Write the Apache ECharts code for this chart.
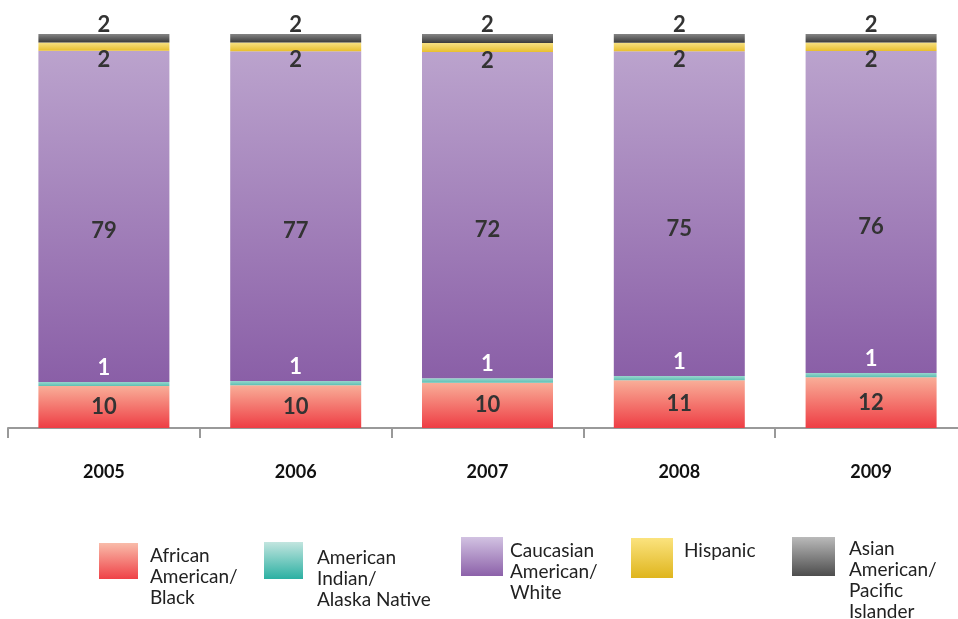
<!DOCTYPE html>
<html>
<head>
<meta charset="utf-8">
<script src="https://cdn.jsdelivr.net/npm/echarts@6/dist/echarts.min.js"></script>
<style>html,body{margin:0;padding:0;background:#fff;}#c{width:958px;height:619px;}</style>
</head>
<body>
<div id="c"></div>
<script>
const categories = ['2005', '2006', '2007', '2008', '2009'];
const african = [10, 10, 10, 11, 12];
const amIndian = [1, 1, 1, 1, 1];
const caucasian = [79, 77, 72, 75, 76];
const hispanic = [2, 2, 2, 2, 2];
const asian = [2, 2, 2, 2, 2];
const seriesNames = ['African American/Black', 'American Indian/Alaska Native', 'Caucasian American/White', 'Hispanic', 'Asian American/Pacific Islander'];
const legendLines = [
  ['African', 'American/', 'Black'],
  ['American', 'Indian/', 'Alaska Native'],
  ['Caucasian', 'American/', 'White'],
  ['Hispanic'],
  ['Asian', 'American/', 'Pacific', 'Islander']
];

const raw = [african, amIndian, caucasian, hispanic, asian];
const totals = categories.map((_, i) => raw.reduce((s, arr) => s + arr[i], 0));
const share = arr => arr.map((v, i) => v / totals[i] * 100);

const grad = (top, bottom) => new echarts.graphic.LinearGradient(0, 0, 0, 1, [
  { offset: 0, color: top }, { offset: 1, color: bottom }
]);

const barColors = [
  grad('#f9ae98', '#ee3d44'),
  grad('#9ad6cd', '#5cc0b4'),
  grad('#bba3cd', '#8a5fa7'),
  grad('#f7e184', '#e8bf2e'),
  grad('#858585', '#3b3b3b')
];
const legendColors = [
  grad('#f9bcaa', '#ef4147'),
  grad('#c2e5df', '#2bb0a2'),
  grad('#d2c2e2', '#8c61a9'),
  grad('#fbe37e', '#dfb51d'),
  grad('#bababa', '#4d4d4d')
];

const FONT = 'Lato';
const labelBase = { show: true, fontFamily: FONT, fontWeight: 'bold', fontSize: 22, color: '#333' };
const labels = [
  Object.assign({}, labelBase, { position: 'inside' }),
  Object.assign({}, labelBase, { position: 'top', distance: 3, color: '#fff' }),
  Object.assign({}, labelBase, { position: 'inside', offset: [0, 15] }),
  Object.assign({}, labelBase, { position: 'bottom', distance: 0, offset: [0, -2] }),
  Object.assign({}, labelBase, { position: 'top', distance: 0, offset: [0, 2] })
];

const series = raw.map((arr, k) => ({
  name: seriesNames[k],
  type: 'bar',
  stack: 'total',
  barWidth: 131,
  data: share(arr),
  itemStyle: { color: barColors[k] },
  label: Object.assign({}, labels[k], { formatter: p => String(arr[p.dataIndex]) }),
  emphasis: { disabled: true }
}));

// [left, top, itemWidth, itemHeight, spacerTop, spacerBottom, paddingLeft]
const legendLayout = [
  [99, 514, 39, 36, 31, 0, 7],
  [264, 511, 39, 37, 36, 0, 9],
  [461, 510, 42, 39, 30, 0, 2],
  [631, 538, 42, 40, 0, 15, 6],
  [792, 491, 43, 39, 47, 0, 9]
];
const legends = legendLayout.map((L, k) => {
  const parts = [];
  if (L[4]) parts.push('{s| }');
  legendLines[k].forEach(t => parts.push('{t|' + t + '}'));
  if (L[5]) parts.push('{b| }');
  const txt = parts.join('\n');
  return {
    left: L[0], top: L[1], padding: 0, itemWidth: L[2], itemHeight: L[3],
    icon: 'rect', selectedMode: false,
    data: [{ name: seriesNames[k], itemStyle: { color: legendColors[k] } }],
    formatter: () => txt,
    textStyle: {
      fontFamily: FONT, fontSize: 19, lineHeight: 21, color: '#222', padding: [0, 0, 0, L[6]],
      rich: {
        t: { fontFamily: FONT, fontSize: 19, lineHeight: 21, color: '#222' },
        s: { fontSize: 2, lineHeight: L[4] || 1 },
        b: { fontSize: 2, lineHeight: L[5] || 1 }
      }
    }
  };
});

const chart = echarts.init(document.getElementById('c'));
chart.setOption({
  animation: false,
  backgroundColor: '#fff',
  grid: { left: 8, top: 34, width: 959, height: 394, containLabel: false, outerBoundsMode: 'none' },
  xAxis: {
    type: 'category',
    data: categories,
    axisLine: { lineStyle: { color: '#999', width: 2 } },
    axisTick: { show: true, length: 10, lineStyle: { color: '#999', width: 2 }, alignWithLabel: false },
    axisLabel: { margin: 35, fontFamily: FONT, fontWeight: 'bold', fontSize: 18, color: '#111' }
  },
  yAxis: { type: 'value', min: 0, max: 100, show: false },
  legend: legends,
  series: series
});
</script>
</body>
</html>
